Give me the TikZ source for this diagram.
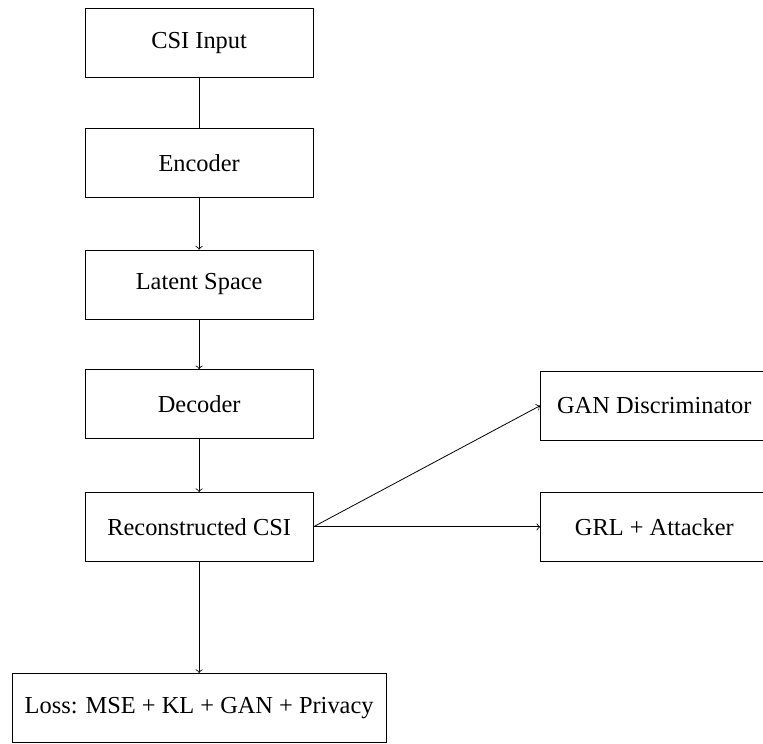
\documentclass[tikz,border=0pt]{standalone}
\usepackage{fontspec}
\setmainfont{Liberation Serif}

\tikzset{
  block/.style={draw, minimum width=4cm, minimum height=1.21cm, font=\fontsize{12.2}{14}\selectfont}
}

\begin{document}
\begin{tikzpicture}

\useasboundingbox (0,0) rectangle (13.41,-13.07);

\node [block] (input) at (3.5,-0.75) {CSI Input};
\node [block] (enc) at (3.5,-2.86) {Encoder};
\node [block] (latent) at (3.5,-5.0) {Latent Space};
\node [block] (dec) at (3.5,-7.1) {Decoder};
\node [block] (recon) at (3.5,-9.26) {Reconstructed CSI};
\node [block, minimum width=6.57cm] (loss) at (3.5,-12.44) {Loss: MSE + KL + GAN + Privacy};

\node [block] (disc) at (11.5,-7.13) {GAN Discriminator};
\node [block] (attack) at (11.5,-9.26) {GRL + Attacker};

\draw (input) -- (enc);
\draw [->] (enc) -- (latent);
\draw [->] (latent) -- (dec);
\draw [->] (dec) -- (recon);
\draw [->] (recon) -- (loss);
\draw [->] (recon.east) -- (disc.west);
\draw [->] (recon.east) -- (attack.west);
\end{tikzpicture}
\end{document}
